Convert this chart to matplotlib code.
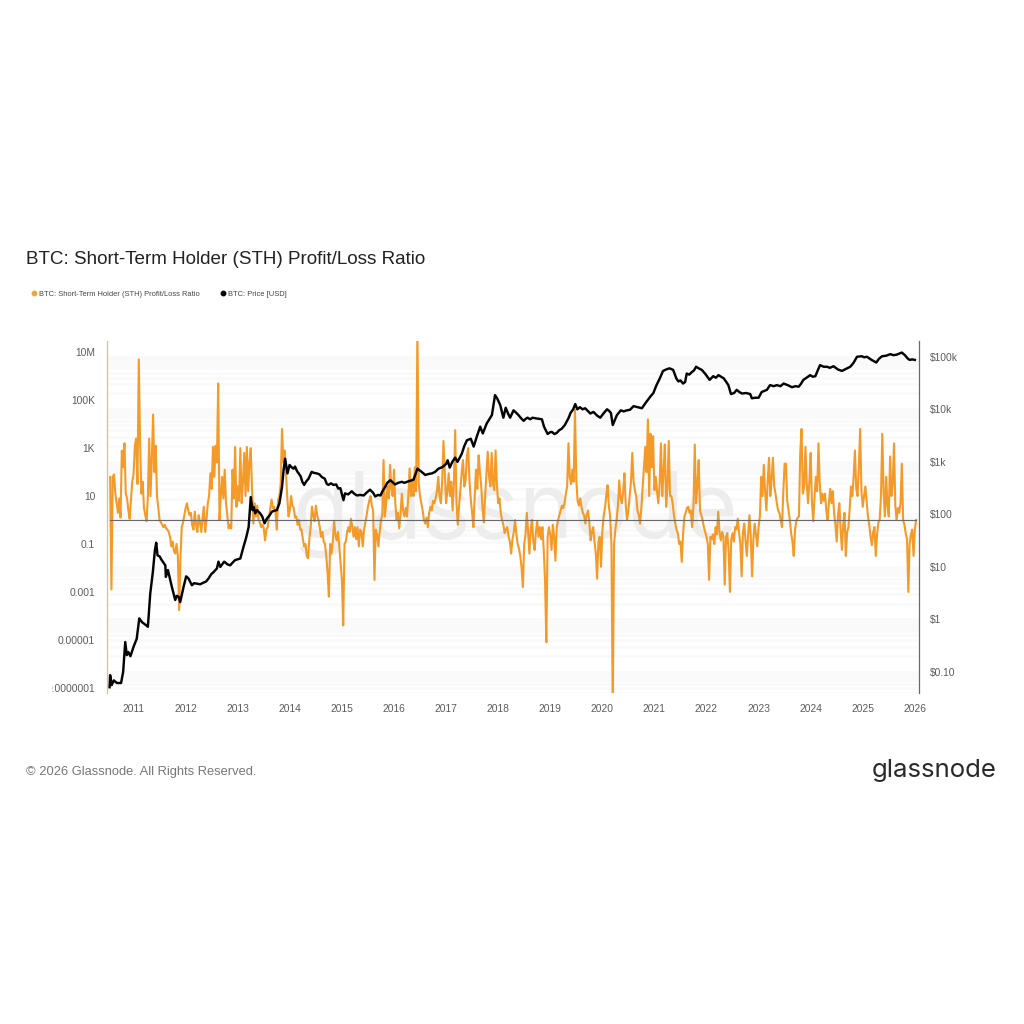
import numpy as np
import matplotlib
matplotlib.use("Agg")
import matplotlib.pyplot as plt
from matplotlib.ticker import FixedLocator, NullFormatter, NullLocator
from matplotlib.transforms import Bbox, IdentityTransform, TransformedBbox

# log10 of the STH profit/loss ratio, one row per calendar year, 40 samples a year
SAMPLES_PER_YEAR = 40
sth_2010 = [1.8,-2.9,1.8,1.9,1.1,0.7,0.3,0.9,0.1,2.9,2.2,3.2,1.1,0.9,0.4,0.05,0.8,1.6]
sth_2011 = [1.9,3.1,3.4,1.5,6.7,3.3,1.1,1.6,0.5,0.2,-0.05,1.0,3.4,1.0,2.5,4.4,2.0,3.1,1.0,0.5,
            0.0,-0.1,-0.2,-0.3,-0.2,-0.35,-0.4,-0.5,-0.7,-1.1,-0.9,-1.3,-1.4,-1.0,-1.5,-3.76,-1.6,-0.3,-0.1,0.2]
sth_2012 = [0.5,0.7,0.4,0.2,0.3,-0.2,-0.4,0.35,-0.2,-0.5,0.2,-0.1,-0.5,0.1,0.55,-0.5,0.0,0.7,1.0,1.95,
            1.3,3.05,1.8,3.1,2.4,5.7,0.0,1.0,1.8,0.9,2.1,0.7,0.2,-0.35,-0.2,-0.35,2.1,0.9,3.05,0.55]
sth_2013 = [1.4,0.8,3.0,0.7,1.6,2.8,1.0,3.05,1.2,2.4,3.0,1.25,-0.15,0.7,0.15,0.6,0.0,-0.1,-0.3,-0.2,
            -0.35,-0.85,-0.4,-0.3,0.1,0.5,0.85,0.5,0.55,0.3,-0.4,0.85,1.0,1.5,3.8,2.4,2.9,2.0,1.0,0.15]
sth_2014 = [0.4,1.0,0.6,0.5,0.1,0.15,-0.2,0.0,-0.4,-0.4,-0.8,-1.1,-1.0,-1.5,-1.6,-0.8,-0.3,0.55,0.2,-0.05,
            0.6,0.2,0.0,-0.3,-0.7,-0.5,-0.9,-1.0,-1.5,-2.2,-3.2,-1.0,-1.4,-0.9,-0.05,-0.6,-0.85,-0.5,-1.1,-1.8]
sth_2015 = [-2.5,-4.4,-1.0,-0.9,-0.5,-0.3,-0.5,0.05,-0.3,-0.7,-0.3,-0.8,-0.3,-1.1,-0.4,-0.5,-1.1,-0.4,-0.1,0.2,
            0.55,0.8,1.0,0.6,0.4,-2.5,-0.4,-0.6,-1.1,-0.5,0.0,0.2,2.5,0.15,0.7,1.4,0.9,2.3,1.3,1.0]
sth_2016 = [2.1,0.7,0.0,0.3,-0.35,0.2,1.1,0.4,0.15,0.5,0.15,1.0,2.15,1.0,1.7,1.0,2.2,1.2,8.0,1.5,
            1.0,0.7,0.4,0.0,-0.15,0.1,-0.3,0.3,0.55,0.4,0.8,0.7,0.9,1.2,1.8,1.0,0.7,1.6,3.3,2.0]
sth_2017 = [0.7,1.2,1.95,1.0,1.6,0.4,1.5,3.75,0.7,-0.2,0.6,1.25,2.0,2.5,1.4,1.65,2.7,3.0,1.6,0.85,
            0.3,-0.3,1.0,2.1,1.3,2.7,2.0,1.4,0.5,-0.1,1.0,1.95,2.85,1.8,1.4,2.8,1.5,1.25,2.9,1.5]
sth_2018 = [0.7,0.9,0.3,0.0,-0.2,-0.55,-0.4,-0.3,-0.7,-0.9,-1.4,-0.8,-0.5,0.0,-0.6,-1.0,-1.2,-1.5,-2.0,-2.8,
            -1.0,-0.6,0.3,-0.5,-1.4,-0.4,0.0,-0.9,-1.25,-0.5,-0.05,-0.7,-0.3,-0.8,-0.3,-1.25,-2.5,-5.1,-0.7,-0.3]
sth_2019 = [-0.6,-1.25,-0.2,-0.7,-1.7,-0.3,0.0,0.2,0.4,0.6,0.5,0.7,1.1,1.4,3.2,1.8,1.5,2.1,1.6,4.6,
            1.7,0.8,0.6,0.9,0.55,0.3,0.2,-0.15,0.2,0.4,-0.1,-0.85,-0.5,-0.3,-0.9,-1.4,-2.45,-0.9,-0.7,-1.95]
sth_2020 = [-0.5,0.15,0.5,1.0,1.45,0.6,0.15,-1.0,-8.0,-1.0,-0.4,0.0,0.6,1.65,0.9,0.7,1.2,1.95,0.6,0.0,
            0.4,1.0,1.6,2.8,1.6,1.25,1.0,0.4,0.2,-0.15,0.5,1.4,2.2,3.05,2.0,4.2,1.0,3.6,2.2,3.5]
sth_2021 = [1.25,1.8,1.2,0.7,1.5,3.2,1.0,2.0,3.15,0.55,1.3,3.3,1.0,1.0,0.7,0.2,-0.15,-0.4,-0.55,-1.0,
            -0.9,-1.75,-0.6,0.15,0.3,0.5,0.55,0.3,0.4,-0.3,0.6,3.15,0.7,1.4,2.5,0.4,0.2,0.0,-0.3,-0.5]
sth_2022 = [-0.7,-1.0,-2.5,-0.7,-0.8,-0.6,-1.0,-0.3,-0.6,0.35,-0.5,-0.85,-0.5,-0.7,-2.7,-0.7,-0.55,-1.3,-3.0,-0.8,
            -0.55,-0.9,-0.3,-0.4,0.05,-0.5,-1.0,-2.35,-0.5,-0.15,-0.9,-1.5,-0.6,0.2,-0.7,-2.35,-0.8,-0.15,-0.6,-1.1]
sth_2023 = [-0.3,0.15,1.8,1.0,2.3,1.2,0.4,1.6,2.6,1.0,1.7,2.6,1.4,1.1,0.7,0.4,0.3,0.0,-0.3,1.2,
            2.35,2.35,0.8,0.4,0.0,-0.55,-0.9,-1.5,-0.4,-0.05,0.1,0.15,2.8,3.8,1.1,1.4,3.05,1.5,0.7,1.6]
sth_2024 = [2.8,0.7,-0.05,1.0,1.8,1.2,3.2,1.5,0.7,1.1,0.8,1.1,0.4,0.0,0.7,1.3,0.7,1.2,0.3,-0.2,
            -0.9,0.2,0.7,-0.4,-1.25,-0.2,0.3,-1.5,-0.5,-0.3,0.5,1.4,1.0,1.8,2.9,1.3,1.0,2.2,3.8,1.2]
sth_2025 = [0.55,1.0,1.4,0.8,0.15,-0.2,-0.7,-1.05,-0.5,-0.3,-1.5,-0.6,-0.1,0.0,1.0,3.6,1.2,0.15,1.8,0.6,
            0.15,2.65,1.0,1.5,3.2,0.6,0.0,0.5,0.3,0.7,2.35,0.0,-0.2,-0.55,-0.8,-3.0,-1.0,-0.6,-0.4,-1.5]
sth_2026 = [-0.4,0.0]

# (decimal year, log10 of the BTC price in USD)
price_log10 = [
    (2010.54,-1.29),(2010.55,-1.06),(2010.58,-1.25),(2010.62,-1.16),(2010.68,-1.21),(2010.76,-1.21),(2010.80,-1.0),(2010.84,-0.43),
    (2010.87,-0.68),(2010.90,-0.62),(2010.94,-0.70),(2011.0,-0.52),(2011.06,-0.37),(2011.11,0.02),(2011.16,-0.05),(2011.24,-0.11),(2011.275,-0.14),
    (2011.32,0.49),(2011.37,0.90),(2011.41,1.32),(2011.435,1.46),(2011.46,1.22),(2011.50,1.2),(2011.54,1.13),(2011.61,1.03),(2011.62,0.81),
    (2011.66,0.94),(2011.735,0.62),(2011.80,0.37),(2011.83,0.45),(2011.865,0.43),(2011.895,0.33),(2011.96,0.62),(2012.01,0.82),(2012.055,0.78),
    (2012.12,0.65),(2012.16,0.69),(2012.215,0.68),(2012.28,0.67),(2012.34,0.70),(2012.39,0.72),(2012.44,0.78),(2012.49,0.86),(2012.535,0.90),(2012.60,0.97),(2012.63,1.10),(2012.665,1.0),
    (2012.74,1.10),(2012.80,1.05),(2012.855,1.03),(2012.90,1.08),(2012.95,1.13),(2013.05,1.16),(2013.11,1.38),(2013.16,1.55),(2013.21,1.76),(2013.25,2.33),(2013.285,2.08),
    (2013.31,2.14),(2013.335,2.02),(2013.37,2.08),(2013.43,2.02),(2013.47,1.96),(2013.515,1.83),(2013.56,1.92),(2013.61,1.98),(2013.655,2.05),(2013.70,2.07),(2013.75,2.08),(2013.80,2.21),
    (2013.85,2.52),(2013.88,2.84),(2013.91,3.06),(2013.955,2.78),(2013.995,2.94),(2014.03,2.90),(2014.07,2.87),(2014.10,2.91),(2014.14,2.82),(2014.17,2.78),(2014.21,2.72),(2014.24,2.62),(2014.275,2.56),
    (2014.31,2.62),(2014.36,2.68),(2014.42,2.81),(2014.46,2.79),(2014.52,2.78),(2014.57,2.76),(2014.615,2.71),(2014.67,2.68),(2014.71,2.58),(2014.74,2.56),(2014.79,2.59),(2014.84,2.56),(2014.89,2.57),(2014.93,2.49),(2014.97,2.50),(2015.03,2.27),
    (2015.06,2.40),(2015.12,2.38),(2015.19,2.44),(2015.24,2.39),(2015.29,2.36),(2015.35,2.37),(2015.42,2.36),(2015.48,2.42),(2015.54,2.47),(2015.60,2.41),(2015.64,2.34),(2015.69,2.37),(2015.74,2.36),(2015.79,2.46),(2015.83,2.52),
    (2015.87,2.60),(2015.93,2.65),(2016.02,2.57),(2016.08,2.60),(2016.15,2.62),(2016.20,2.60),(2016.25,2.62),(2016.31,2.64),(2016.375,2.66),(2016.45,2.87),(2016.53,2.81),(2016.6,2.75),
    (2016.67,2.77),(2016.73,2.78),(2016.79,2.81),(2016.855,2.87),(2016.93,2.90),(2017.0,2.96),(2017.03,3.03),(2017.07,2.89),(2017.12,3.0),(2017.175,3.08),(2017.22,3.0),(2017.30,3.15),
    (2017.35,3.30),(2017.4,3.41),(2017.475,3.44),(2017.53,3.29),(2017.59,3.48),(2017.655,3.67),(2017.705,3.54),(2017.78,3.73),(2017.88,3.89),
    (2017.94,4.27),(2017.985,4.2),(2018.04,4.08),(2018.10,3.84),(2018.145,4.03),(2018.19,3.92),(2018.23,3.84),(2018.295,3.98),(2018.34,3.94),(2018.39,3.89),
    (2018.44,3.83),(2018.49,3.78),(2018.53,3.82),(2018.565,3.84),(2018.615,3.81),(2018.66,3.84),(2018.71,3.83),(2018.78,3.82),(2018.84,3.81),(2018.88,3.67),(2018.95,3.53),(2018.99,3.56),(2019.03,3.57),
    (2019.08,3.53),(2019.125,3.55),(2019.17,3.60),(2019.22,3.63),(2019.28,3.70),(2019.35,3.83),(2019.39,3.93),(2019.44,4.0),(2019.48,4.10),(2019.52,4.0),(2019.57,4.04),(2019.62,4.0),(2019.67,4.02),(2019.72,3.97),(2019.77,3.92),
    (2019.83,3.95),(2019.90,3.88),(2019.96,3.84),(2020.03,3.93),(2020.09,4.0),(2020.13,3.97),(2020.165,3.93),(2020.2,3.70),(2020.28,3.89),(2020.355,3.98),(2020.41,3.96),(2020.47,3.98),
    (2020.53,3.99),(2020.6,4.06),(2020.68,4.04),(2020.76,4.02),(2020.83,4.12),(2020.92,4.24),(2020.98,4.31),(2021.04,4.46),(2021.10,4.58),(2021.165,4.73),(2021.23,4.76),(2021.29,4.78),(2021.36,4.75),(2021.42,4.59),
    (2021.46,4.53),(2021.50,4.55),(2021.55,4.49),(2021.59,4.52),(2021.62,4.68),(2021.67,4.66),(2021.72,4.71),(2021.76,4.74),(2021.80,4.81),(2021.85,4.78),(2021.91,4.75),(2021.98,4.67),(2022.06,4.56),(2022.13,4.63),
    (2022.18,4.60),(2022.23,4.65),(2022.28,4.62),(2022.33,4.59),(2022.38,4.52),(2022.42,4.46),(2022.47,4.29),(2022.53,4.31),(2022.58,4.37),(2022.63,4.33),(2022.68,4.30),(2022.76,4.31),(2022.84,4.29),(2022.87,4.21),
    (2022.94,4.22),(2023.0,4.22),(2023.06,4.33),(2023.11,4.35),(2023.16,4.37),(2023.22,4.46),(2023.29,4.44),(2023.35,4.46),(2023.42,4.44),(2023.48,4.49),(2023.56,4.46),(2023.64,4.42),(2023.71,4.44),(2023.77,4.43),
    (2023.81,4.48),(2023.86,4.56),(2023.92,4.60),(2023.99,4.65),(2024.04,4.62),(2024.09,4.63),(2024.14,4.75),(2024.18,4.84),(2024.25,4.81),(2024.31,4.81),(2024.37,4.79),(2024.44,4.82),(2024.52,4.76),(2024.6,4.73),(2024.68,4.77),(2024.76,4.81),
    (2024.82,4.88),(2024.89,5.0),(2024.98,5.01),(2025.03,4.99),(2025.08,5.0),(2025.17,4.94),(2025.26,4.89),(2025.31,4.96),(2025.37,5.01),(2025.45,5.02),(2025.53,5.05),(2025.59,5.03),(2025.65,5.04),
    (2025.70,5.06),(2025.75,5.08),(2025.81,5.03),(2025.86,4.97),(2025.9,4.94),(2025.95,4.95),(2026.0,4.94),
]

year_ticks = list(range(2011, 2027))
ratio_ticks = [1e7, 1e5, 1e3, 10, 0.1, 0.001, 0.00001, 0.0000001]
ratio_labels = ["10M", "100K", "1K", "10", "0.1", "0.001", "0.00001", "0.0000001"]
price_ticks = [1e5, 1e4, 1e3, 100, 10, 1, 0.1]
price_labels = ["$100k", "$10k", "$1k", "$100", "$10", "$1", "$0.10"]

ORANGE = "#F39A28"
TEXT = "#5c5c5c"
W = H = 1024

plt.rcParams["font.family"] = ["Liberation Sans", "DejaVu Sans"]
fig = plt.figure(figsize=(W / 100, H / 100), dpi=100, facecolor="white")
rect = [107 / W, 1 - 693 / H, (919 - 107) / W, (693 - 341) / H]

# Backdrop layer with the pale stripes, under both data axes
back = fig.add_axes(rect, zorder=0)
ax = fig.add_axes(rect, zorder=1)
ax.patch.set_visible(False)
ax2 = ax.twinx()
ax2.set_zorder(2)

sth_log = np.array(sth_2010 + sth_2011 + sth_2012 + sth_2013 + sth_2014 + sth_2015 + sth_2016 + sth_2017
                   + sth_2018 + sth_2019 + sth_2020 + sth_2021 + sth_2022 + sth_2023 + sth_2024 + sth_2025 + sth_2026)
sth_x = 2010 + (SAMPLES_PER_YEAR - len(sth_2010) + np.arange(len(sth_log))) / SAMPLES_PER_YEAR
price_x, price_log = np.array(price_log10).T

ax.set_xlim(2010.49, 2026.08)
ax.set_yscale("log")
ax.set_ylim(10 ** -7.22, 10 ** 7.47)
ax2.set_yscale("log")
ax2.set_ylim(10 ** -1.4, 10 ** 5.3)

back.set_yscale("log")
back.set_ylim(10 ** -1.4, 10 ** 5.3)
back.set_xticks([])
back.yaxis.set_major_locator(FixedLocator(price_ticks))
back.yaxis.set_minor_locator(FixedLocator(
    [m * 10.0 ** e for e in range(-2, 6) for m in range(2, 10)]))
back.yaxis.set_major_formatter(NullFormatter())
back.yaxis.set_minor_formatter(NullFormatter())
back.tick_params(which="both", length=0)
back.grid(True, which="both", axis="y", color="#f9f9f9", lw=1.8)
for s in back.spines.values():
    s.set_visible(False)

fig.text(515 / W, 1 - 538 / H, "glassnode", ha="center", va="baseline",
         fontsize=66, color="#ededed", family="Inter", zorder=0.5)
back.patch.set_alpha(0)

ax.plot(sth_x, 10 ** sth_log, color=ORANGE, lw=1.5, solid_joinstyle="round", zorder=3)
ax.plot([2010.54, 2026.02], [1, 1], color="#6a6a6a", lw=0.85, zorder=4)
ax2.plot(price_x, 10 ** price_log, color="#050505", lw=1.75, solid_joinstyle="round", zorder=5)

ax.set_xticks(year_ticks)
ax.set_xticklabels([str(y) for y in year_ticks])
ax.yaxis.set_major_locator(FixedLocator(ratio_ticks))
ax.set_yticklabels(ratio_labels)
ax.yaxis.set_minor_locator(NullLocator())
ax2.yaxis.set_major_locator(FixedLocator(price_ticks))
ax2.yaxis.set_minor_locator(NullLocator())
ax2.set_yticklabels(price_labels)

ax.tick_params(axis="x", length=0, labelsize=7.4, labelcolor=TEXT, pad=8)
ax.tick_params(axis="y", length=0, labelsize=7.4, labelcolor=TEXT, pad=8.5)
ax2.tick_params(axis="y", which="major", length=0, labelsize=7.4, labelcolor=TEXT, pad=8)

for s in ("top", "bottom"):
    ax.spines[s].set_visible(False)
    ax2.spines[s].set_visible(False)
ax2.spines["left"].set_visible(False)
ax.spines["right"].set_visible(False)
ax.spines["left"].set_color("#E3BE7C")
ax.spines["left"].set_linewidth(0.9)
ax2.spines["right"].set_color("#6a6a6a")
ax2.spines["right"].set_linewidth(0.9)

# The longest tick label runs off the left end of the plot card
fig.canvas.draw()
card = TransformedBbox(Bbox([[52, 0], [W, H]]), IdentityTransform())
for lbl in ax.get_yticklabels():
    lbl.set_clip_box(card)
    lbl.set_clip_on(True)


def fig_text(x, y, s, **kw):
    fig.text(x / W, 1 - y / H, s, va="center", **kw)


fig_text(26, 260, "BTC: Short-Term Holder (STH) Profit/Loss Ratio", fontsize=13.6, color="#222222")
fig_text(39, 294.5, "BTC: Short-Term Holder (STH) Profit/Loss Ratio", fontsize=5.45, color="#444444")
fig_text(228, 294.5, "BTC: Price [USD]", fontsize=5.45, color="#444444")
fig.add_artist(plt.Line2D([33.5 / W], [1 - 293 / H], marker="o", ms=3.2, color="#E9A83F", lw=0))
fig.add_artist(plt.Line2D([223 / W], [1 - 293 / H], marker="o", ms=3.2, color="#050505", lw=0))
fig_text(26, 772, "© 2026 Glassnode. All Rights Reserved.", fontsize=9.3, color="#777777")
fig_text(872, 770, "glassnode", fontsize=18.6, color="#2a2a2a", family="Inter")

fig.savefig("out.png", dpi=100, facecolor="white")
